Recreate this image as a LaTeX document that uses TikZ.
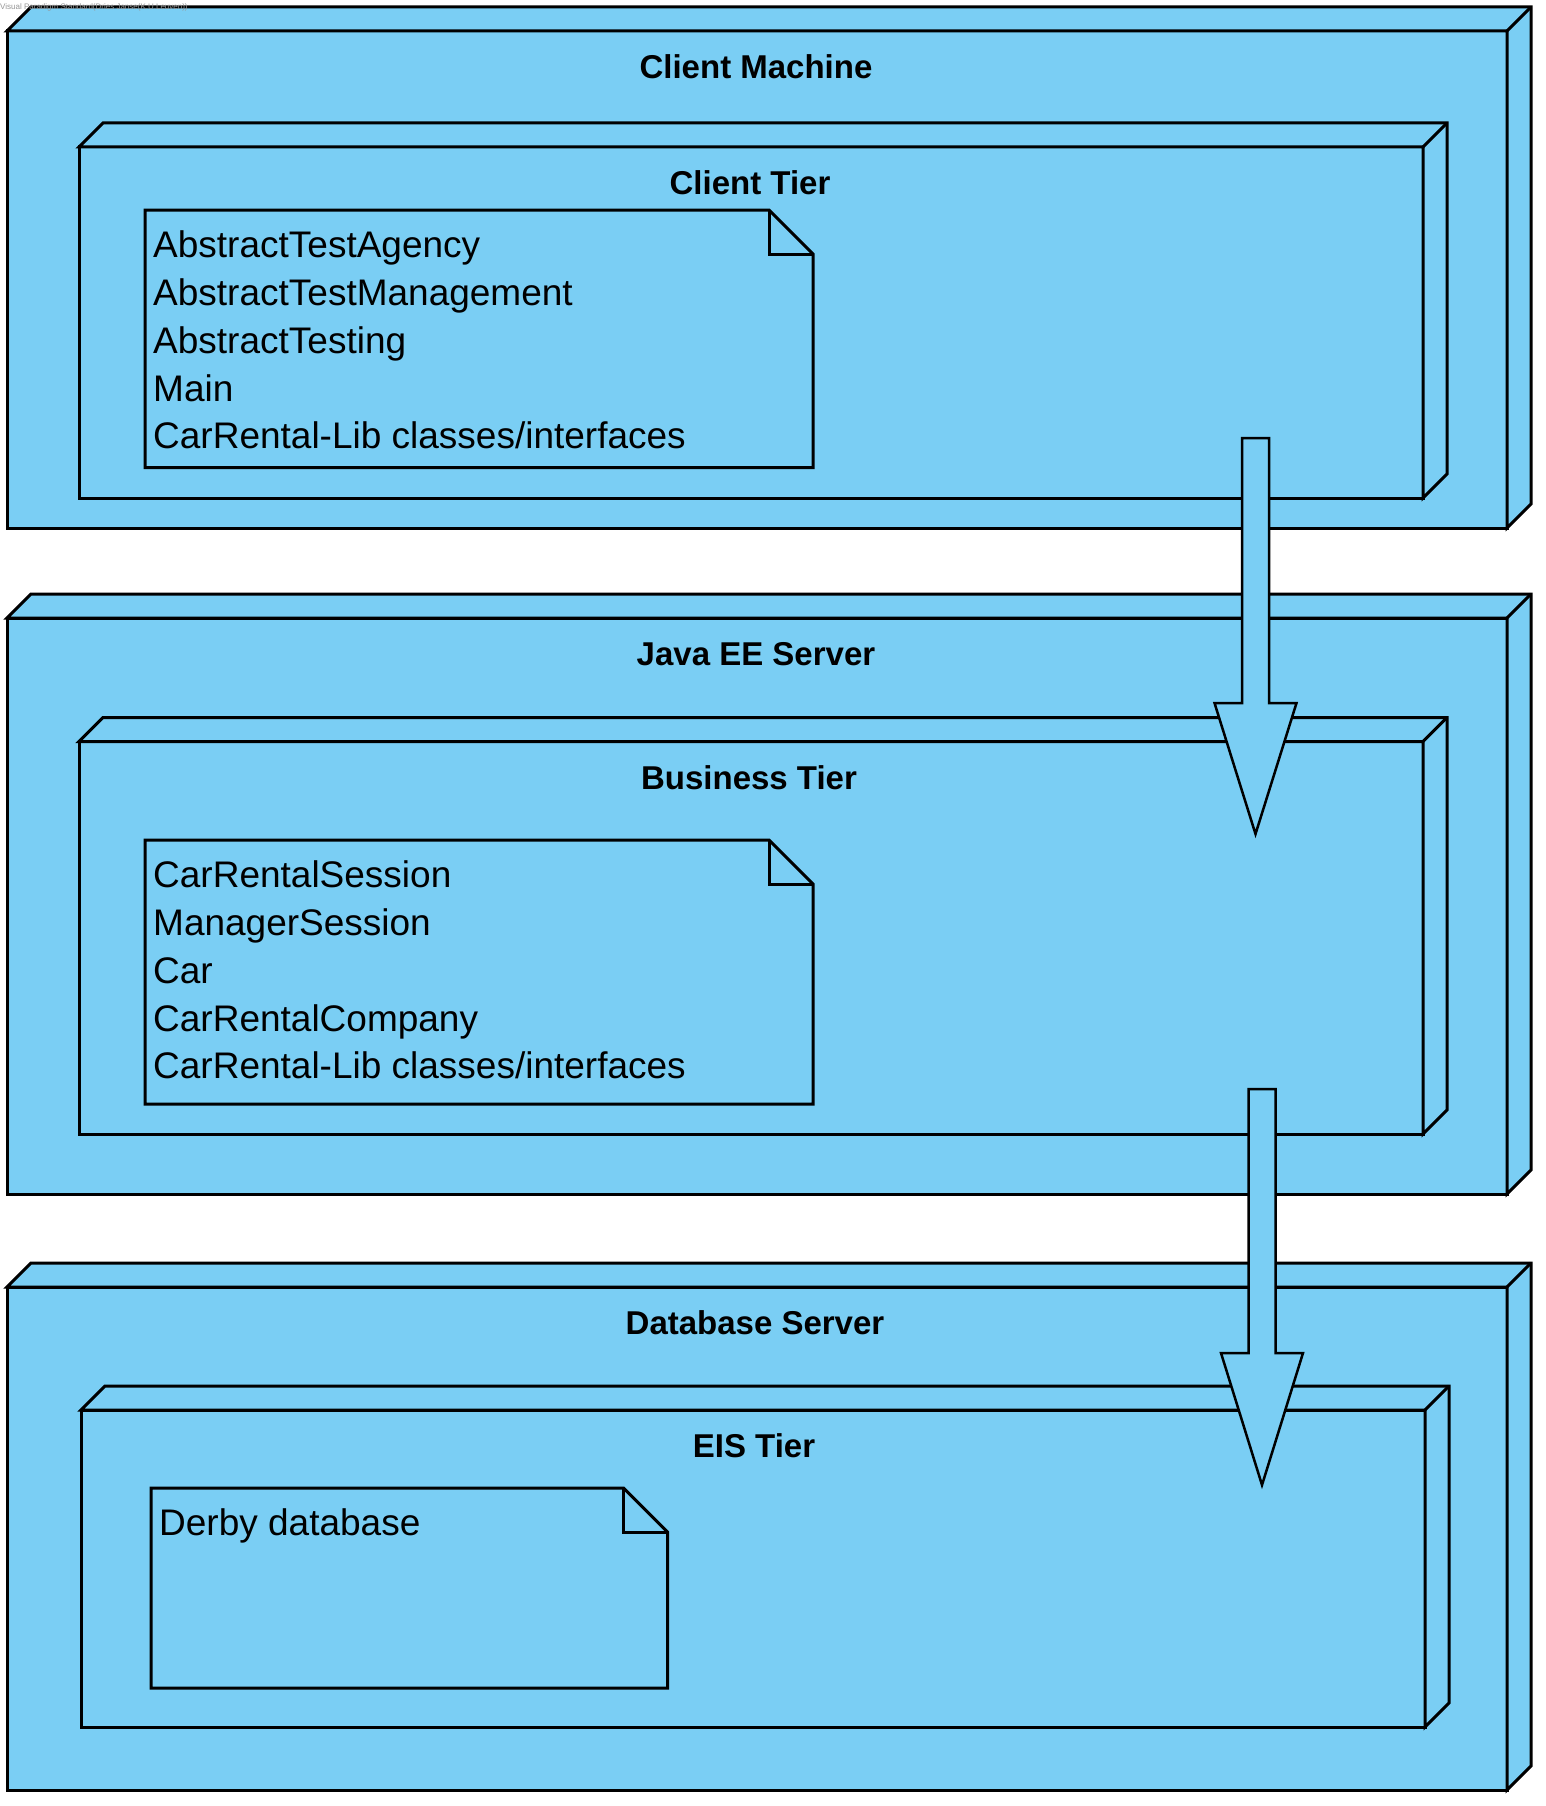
\documentclass[tikz,border=0pt]{standalone}
\usepackage{fontspec}
\setmainfont{Liberation Sans}
\definecolor{nodeblue}{RGB}{122,206,244}
\definecolor{wmgrey}{RGB}{150,150,150}
\tikzset{
  boxfront/.style={draw=black, fill=nodeblue, line width=3pt, inner sep=0pt, outer sep=0pt, rectangle},
  face/.style={draw=black, fill=nodeblue, line width=3pt, line join=miter},
  edge3d/.style={draw=black, line width=3pt},
  notearea/.style={draw=none, inner sep=0pt, outer sep=0pt, rectangle},
  titletext/.style={font=\fontsize{33}{40}\selectfont\bfseries, anchor=base, inner sep=0pt},
  notetext/.style={font=\fontsize{37}{44}\selectfont, anchor=base west, inner sep=0pt},
  blockarrow/.style={draw=black, fill=nodeblue, line width=2.5pt, line join=miter},
}
% 3D deployment node: name, L, T, R, B (pixel coordinates, y down)
\newcommand{\tdbox}[5]{%
  \node[boxfront, anchor=north west, minimum width={(#4-#2)*1pt}, minimum height={(#5-#3)*1pt}] (#1) at (#2,#3) {};
  \draw[face] (#1.north west) -- ++(24,-24) -| ([shift={(24,-24)}]#1.south east) -- (#1.south east) -- (#1.north east) -- cycle;
  \draw[edge3d] (#1.north east) -- ++(24,-24);
}
% note with folded corner: name, L, T, R, B
\newcommand{\notebox}[5]{%
  \node[notearea, anchor=north west, minimum width={(#4-#2)*1pt}, minimum height={(#5-#3)*1pt}] (#1) at (#2,#3) {};
  \draw[face] (#1.north west) -- ([xshift=-44pt]#1.north east) -- ([yshift=-44pt]#1.north east) -- (#1.south east) -- (#1.south west) -- cycle;
  \draw[edge3d, line join=miter] ([xshift=-44pt]#1.north east) -- ++(0,44) -- ([yshift=-44pt]#1.north east);
}
% block arrow: name, x, top, head base, tip
\newcommand{\blockarr}[5]{%
  \coordinate (#1-s) at (#2,#3);
  \coordinate (#1-b) at (#2,#4);
  \coordinate (#1-t) at (#2,#5);
  \draw[blockarrow] ([xshift=-13.5pt]#1-s) -- ([xshift=13.5pt]#1-s) -- ([xshift=13.5pt]#1-b) -- ([xshift=41pt]#1-b) -- (#1-t) -- ([xshift=-41pt]#1-b) -- ([xshift=-13.5pt]#1-b) -- cycle;
}
\begin{document}
\begin{tikzpicture}[x=1pt,y=-1pt]
\useasboundingbox (0,0) rectangle (1545,1806);

% Client Machine
\tdbox{cm}{7}{31}{1507}{528}
\node[titletext] (cmtitle) at (756,78.5) {Client Machine};
\tdbox{ct}{79}{147}{1423}{498}
\node[titletext] (cttitle) at (750,194.5) {Client Tier};
\notebox{n1}{145}{210}{813}{467.5}
\node[notetext] (n1a) at (153,257.6) {AbstractTestAgency};
\node[notetext] (n1b) at (153,305.4) {AbstractTestManagement};
\node[notetext] (n1c) at (153,353.2) {AbstractTesting};
\node[notetext] (n1d) at (153,401.0) {Main};
\node[notetext] (n1e) at (153,448.8) {CarRental-Lib classes/interfaces};

% Java EE Server
\tdbox{je}{7}{618}{1507}{1194}
\node[titletext] (jetitle) at (756,665.5) {Java EE Server};
\tdbox{bt}{79}{741.5}{1423}{1134}
\node[titletext] (bttitle) at (749,789) {Business Tier};
\notebox{n2}{145}{840}{813}{1104}
\node[notetext] (n2a) at (153,887.6) {CarRentalSession};
\node[notetext] (n2b) at (153,935.4) {ManagerSession};
\node[notetext] (n2c) at (153,983.2) {Car};
\node[notetext] (n2d) at (153,1031.0) {CarRentalCompany};
\node[notetext] (n2e) at (153,1078.8) {CarRental-Lib classes/interfaces};

% Database Server
\tdbox{db}{7}{1287}{1507}{1790}
\node[titletext] (dbtitle) at (755,1334.5) {Database Server};
\tdbox{eis}{81}{1410}{1425}{1727}
\node[titletext] (eistitle) at (754,1457.5) {EIS Tier};
\notebox{n3}{151}{1488}{667.5}{1688}
\node[notetext] (n3a) at (159,1535.2) {Derby database};

% dependency arrows
\blockarr{a1}{1255.5}{438}{703}{834}
\blockarr{a2}{1262}{1089}{1353}{1485}

\node[font=\fontsize{8}{9}\selectfont, text=wmgrey, anchor=base west, inner sep=0pt] (wm) at (0,9.5) {Visual Paradigm Standard(Dries Janse(K.U.Leuven))};
\end{tikzpicture}
\end{document}
